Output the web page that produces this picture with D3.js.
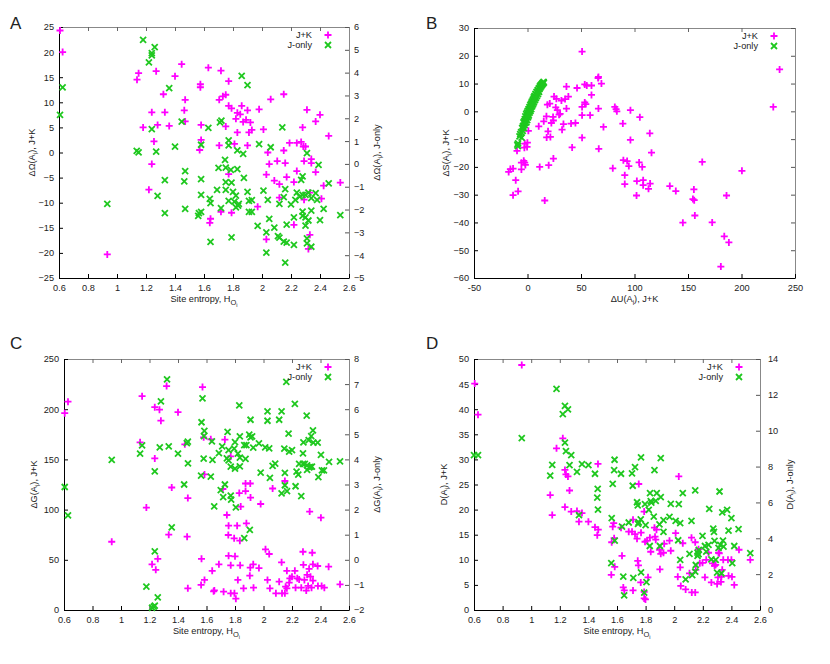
<!DOCTYPE html>
<html>
<head>
<meta charset="utf-8">
<script src="https://d3js.org/d3.v7.min.js"></script>
<style>
  body { margin: 0; background: #fff; }
  svg text { font-family: "Liberation Sans", Arial, Helvetica, sans-serif; fill: #222; }
</style>
</head>
<body>
<div id="chart"></div>
<script>
'use strict';

// tick values
var entropyTicks = [0.6, 0.8, 1, 1.2, 1.4, 1.6, 1.8, 2, 2.2, 2.4, 2.6];
var duTicks = [-50, 0, 50, 100, 150, 200, 250];

// panel A: delta Omega vs site entropy [H, value]
var omegaJK = [[0.607,24.3],[0.625,20.0],[0.933,-20.3],[1.138,14.5],[1.149,15.8],[1.18,5.0],[1.22,-7.4],[1.24,8.0],[1.24,-2.3],[1.255,2.2],[1.27,16.2],[1.28,5.5],[1.32,11.6],[1.33,8.0],[1.36,5.3],[1.40,15.2],[1.446,17.6],[1.464,8.4],[1.47,10.5],[1.47,6.2],[1.57,0.5],[1.575,13.6],[1.575,13.0],[1.58,2.5],[1.58,5.5],[1.63,16.9],[1.645,-13.2],[1.64,-14.0],[1.705,1.4],[1.717,16.3],[1.705,10.5],[1.717,-11.8],[1.73,11.2],[1.75,11.5],[1.75,5.2],[1.77,-4.3],[1.77,14.2],[1.77,9.3],[1.79,8.8],[1.79,-12.0],[1.81,1.7],[1.82,6.7],[1.83,7.9],[1.83,4.0],[1.85,7.6],[1.86,9.3],[1.87,6.1],[1.89,6.5],[1.90,8.4],[1.91,4.0],[1.90,1.4],[1.92,6.0],[1.93,4.5],[1.98,8.6],[1.97,-10.8],[2.01,4.6],[2.04,0.0],[2.05,-2.3],[2.03,-4.4],[2.03,-17.3],[2.06,10.6],[2.085,-5.6],[2.105,-1.7],[2.12,-6.3],[2.12,-9.0],[2.15,11.6],[2.15,0.4],[2.16,-2.1],[2.17,-4.9],[2.19,1.9],[2.22,-5.9],[2.22,-14.4],[2.24,-3.7],[2.24,1.9],[2.27,2.1],[2.28,5.0],[2.285,1.2],[2.30,1.2],[2.29,-1.7],[2.29,-9.4],[2.31,8.5],[2.32,-19.2],[2.33,-16.4],[2.33,-8.0],[2.34,-1.3],[2.34,-2.1],[2.37,6.2],[2.37,-3.9],[2.40,7.5],[2.41,-9.2],[2.425,-6.6],[2.46,3.3],[2.54,-6.0]];
var omegaJ = [[0.607,2.15],[0.625,3.35],[0.933,-1.75],[1.136,0.57],[1.149,0.51],[1.18,5.44],[1.22,4.45],[1.24,4.76],[1.24,4.86],[1.26,5.12],[1.24,1.52],[1.27,0.54],[1.28,-1.40],[1.33,-2.16],[1.33,-0.71],[1.36,3.32],[1.40,0.76],[1.446,1.85],[1.464,-0.77],[1.47,-0.32],[1.47,-1.97],[1.56,-2.28],[1.565,-2.16],[1.58,0.84],[1.58,-1.36],[1.58,-0.67],[1.58,-2.10],[1.63,1.58],[1.64,-1.53],[1.645,-1.72],[1.645,-3.42],[1.69,-1.14],[1.70,-0.17],[1.71,1.82],[1.72,1.90],[1.717,-1.94],[1.745,0.18],[1.75,-0.16],[1.75,-0.80],[1.75,-1.14],[1.77,1.03],[1.77,0.81],[1.77,-1.62],[1.785,-0.26],[1.79,-0.82],[1.79,-3.22],[1.80,-1.23],[1.81,-1.65],[1.82,-1.39],[1.82,-1.90],[1.83,-0.23],[1.83,0.59],[1.835,-1.83],[1.84,-1.75],[1.86,3.86],[1.87,0.44],[1.875,-0.61],[1.90,3.45],[1.90,-1.23],[1.91,-1.62],[1.91,-2.10],[1.93,-1.59],[1.93,-2.10],[1.97,-2.72],[1.98,0.87],[2.01,-1.17],[2.03,-3.0],[2.03,-3.89],[2.04,-1.58],[2.05,-2.41],[2.06,0.73],[2.085,-2.79],[2.11,-3.16],[2.12,-3.23],[2.12,-1.75],[2.14,1.60],[2.15,-1.46],[2.15,-3.41],[2.16,-1.11],[2.16,-4.33],[2.17,-2.66],[2.17,-3.45],[2.20,-1.77],[2.22,-3.55],[2.22,-2.34],[2.23,-1.58],[2.24,-1.26],[2.26,-1.43],[2.27,-0.70],[2.28,-2.09],[2.28,-1.36],[2.28,-0.55],[2.28,-2.28],[2.30,-2.34],[2.30,-1.36],[2.30,-2.70],[2.31,-3.26],[2.31,-3.48],[2.31,0.47],[2.32,-1.26],[2.32,-2.48],[2.34,-3.63],[2.34,-1.50],[2.34,-2.05],[2.37,-1.28],[2.38,-1.58],[2.39,-0.04],[2.40,-2.46],[2.425,-1.97],[2.46,-0.85],[2.54,-2.24]];

// panel B: delta S vs delta U [dU, dS]
var entJK = [[51.0,21.5],[235.6,15.1],[229.7,1.6],[66.3,12.4],[66.0,12.0],[53.5,9.7],[55.4,9.3],[46.3,8.4],[59.8,9.3],[69.1,10.0],[36.4,8.9],[59.8,5.9],[38.2,5.3],[35.1,4.4],[24.8,5.3],[27.0,4.5],[31.7,3.9],[53.5,3.2],[54.5,2.6],[26.4,1.4],[27.9,0.4],[36.4,1.0],[18.6,2.4],[20.8,2.8],[51.0,1.6],[66.3,1.0],[81.6,1.6],[82.8,0.8],[83.5,0.0],[96.2,0.4],[105.0,-2.1],[29.5,-1.2],[30.5,-0.9],[17.7,-1.8],[23.9,-2.0],[24.2,-3.3],[22.3,-4.2],[33.6,-4.6],[40.7,-4.4],[44.8,-4.2],[58.5,-1.4],[51.0,-1.4],[15.2,-3.6],[10.5,-5.4],[32.3,-6.6],[71.0,-5.6],[89.1,-4.4],[19.2,-7.2],[17.9,-9.4],[21.4,-9.2],[51.0,-9.5],[96.2,-10.3],[114.3,-7.9],[41.7,-13.0],[66.6,-13.5],[115.9,-14.9],[24.2,-17.0],[11.4,-20.0],[19.8,-19.4],[79.7,-20.5],[89.6,-17.6],[93.1,-17.9],[94.7,-19.7],[104.3,-18.4],[107.2,-20.0],[90.9,-23.0],[90.9,-26.2],[102.2,-25.1],[108.1,-24.8],[108.1,-26.6],[113.1,-27.9],[114.6,-26.0],[101.9,-30.3],[133.0,-26.9],[138.6,-28.7],[163.3,-18.2],[155.5,-28.1],[154.6,-31.6],[155.8,-32.0],[156.4,-37.5],[145.2,-40.1],[172.6,-40.0],[186.0,-30.3],[200.4,-21.4],[183.9,-45.0],[188.2,-47.2],[180.7,-55.9],[16.1,-32.1],[-13.5,-30.2],[-8.8,-28.8],[-11.0,-24.8],[-17.6,-21.8],[-16.0,-20.8],[-13.5,-20.6],[-2.6,-18.5],[-5.7,-18.5],[-3.5,-17.8],[-2.0,-19.3],[-5.7,-20.9],[-9.8,-14.2],[-2.9,-13.1],[-0.4,-12.8],[-2.6,-11.6],[-0.1,-11.3],[0.8,-7.0]];
var entJ = [[-9.5,-12.0],[-8.8,-11.5],[-9.0,-12.5],[-7.5,-9.0],[-6.8,-8.2],[-6.0,-7.5],[-5.5,-9.5],[-5.0,-6.0],[-4.5,-7.0],[-4.2,-5.2],[-3.8,-4.0],[-3.5,-6.0],[-3.0,-3.5],[-2.8,-5.0],[-2.5,-2.8],[-2.2,-4.2],[-2.0,-1.8],[-1.5,-3.0],[-1.2,-1.0],[-1.0,-4.0],[-0.8,-2.0],[-0.5,-0.5],[-0.3,-3.2],[0.0,-1.5],[0.2,0.2],[0.5,-2.2],[0.8,-0.8],[1.0,0.8],[1.2,-1.5],[1.5,0.2],[1.8,1.5],[2.0,-0.5],[2.3,0.8],[2.6,2.2],[2.8,0.2],[3.0,1.5],[3.3,2.8],[3.5,0.8],[3.8,2.2],[4.0,3.5],[4.3,1.8],[4.6,3.0],[5.0,4.2],[5.2,2.5],[5.5,3.8],[5.8,5.0],[6.0,3.2],[6.3,4.5],[6.6,5.6],[7.0,4.0],[7.2,5.2],[7.5,6.3],[7.8,4.8],[8.2,6.0],[8.5,7.0],[8.8,5.5],[9.2,6.8],[9.5,7.6],[9.8,6.2],[10.2,7.4],[10.5,8.3],[10.8,7.0],[11.2,8.0],[11.5,9.0],[12.0,8.5],[12.3,9.4],[12.8,9.0],[13.2,9.8],[13.6,9.5],[14.0,10.2],[14.5,10.0],[15.0,10.6],[15.3,10.3]];

// panel C: delta G vs site entropy
var gibbsJK = [[0.605,196],[0.628,207.5],[0.935,68],[1.134,167],[1.148,213],[1.178,102],[1.218,45.5],[1.237,202],[1.237,151],[1.244,40],[1.258,51],[1.27,199.5],[1.28,188.6],[1.32,223],[1.335,75],[1.356,122],[1.40,197],[1.448,165],[1.464,73],[1.469,111.5],[1.469,21.6],[1.562,25],[1.565,51],[1.572,222],[1.58,172],[1.586,135],[1.586,30],[1.63,170],[1.64,39],[1.65,18.6],[1.655,19.5],[1.687,45.5],[1.715,120.5],[1.72,18.3],[1.729,169.7],[1.743,94.6],[1.755,84],[1.753,74.7],[1.755,54],[1.77,153],[1.77,44.5],[1.77,16.6],[1.794,71.4],[1.796,16.6],[1.80,53.5],[1.806,11.3],[1.815,84],[1.82,30],[1.83,116.5],[1.834,69],[1.836,44.5],[1.84,103],[1.86,21.6],[1.874,126],[1.874,118.5],[1.88,86.3],[1.907,126],[1.904,34.2],[1.907,42.2],[1.909,112],[1.928,45.5],[1.93,22.2],[1.968,41.8],[1.98,105.6],[2.014,60.4],[2.028,30],[2.04,55.8],[2.045,21.6],[2.064,121],[2.087,16.6],[2.11,28.2],[2.127,47.5],[2.13,16.6],[2.15,128.5],[2.15,16.6],[2.155,23.2],[2.164,39],[2.164,21.6],[2.18,27.2],[2.185,31.5],[2.2,33.2],[2.22,39],[2.225,22.2],[2.237,31.5],[2.25,30.5],[2.265,22.2],[2.277,58],[2.28,45],[2.287,30],[2.30,19.3],[2.306,35],[2.313,24],[2.32,41],[2.324,98],[2.33,33.2],[2.337,22.2],[2.342,57],[2.347,29.2],[2.347,45.5],[2.38,43.8],[2.382,24],[2.403,92],[2.408,24],[2.427,22.2],[2.457,43.2],[2.537,25.6]];
var gibbsJ = [[0.605,2.90],[0.628,1.77],[0.935,3.98],[1.134,4.23],[1.148,4.56],[1.178,-1.07],[1.218,-1.91],[1.23,-1.87],[1.237,-1.83],[1.237,3.52],[1.237,0.34],[1.258,-1.50],[1.272,4.48],[1.28,6.31],[1.323,7.19],[1.335,4.52],[1.356,1.29],[1.40,4.23],[1.443,3.0],[1.462,4.65],[1.469,4.71],[1.47,3.84],[1.562,3.35],[1.565,5.48],[1.572,6.43],[1.58,4.03],[1.585,5.14],[1.582,4.93],[1.63,3.31],[1.638,4.72],[1.642,3.98],[1.654,2.13],[1.687,4.25],[1.70,2.78],[1.71,4.52],[1.717,2.50],[1.729,3.0],[1.743,4.04],[1.748,5.10],[1.755,3.96],[1.755,4.37],[1.77,3.71],[1.77,2.56],[1.773,2.40],[1.794,4.43],[1.80,3.63],[1.80,4.69],[1.806,2.09],[1.82,4.23],[1.83,6.15],[1.834,4.92],[1.834,3.72],[1.834,4.07],[1.865,0.86],[1.865,4.57],[1.88,4.57],[1.874,4.02],[1.90,4.99],[1.904,1.19],[1.909,5.58],[1.909,4.88],[1.92,4.92],[1.928,4.47],[1.968,4.64],[1.98,3.47],[2.012,4.48],[2.028,5.54],[2.028,5.91],[2.04,4.44],[2.045,3.26],[2.064,3.74],[2.082,3.83],[2.11,5.58],[2.127,5.91],[2.127,2.65],[2.146,4.43],[2.15,3.46],[2.15,2.97],[2.16,7.09],[2.165,2.74],[2.176,5.03],[2.18,4.31],[2.2,4.37],[2.22,6.21],[2.225,2.93],[2.232,3.51],[2.244,3.39],[2.25,3.82],[2.265,2.54],[2.277,4.24],[2.277,3.82],[2.28,4.68],[2.29,3.82],[2.303,5.74],[2.306,3.58],[2.306,3.76],[2.317,4.77],[2.32,3.68],[2.33,3.70],[2.335,4.93],[2.34,3.71],[2.347,5.16],[2.35,4.67],[2.38,4.67],[2.385,3.29],[2.403,4.18],[2.41,3.56],[2.424,3.56],[2.46,3.90],[2.537,3.92]];

// panel D: D(A_i) vs site entropy
var distJK = [[0.605,45.1],[0.628,38.9],[0.934,48.8],[1.133,22.9],[1.147,18.9],[1.177,32.2],[1.221,34.2],[1.236,27.9],[1.236,20.5],[1.243,27.0],[1.257,26.6],[1.268,23.8],[1.28,19.6],[1.32,19.7],[1.334,17.6],[1.355,19.3],[1.40,17.6],[1.446,16.5],[1.462,14.9],[1.467,29.1],[1.469,16.0],[1.56,7.0],[1.563,13.5],[1.57,16.6],[1.577,17.3],[1.584,8.6],[1.58,14.3],[1.628,16.4],[1.635,10.8],[1.644,4.5],[1.651,3.9],[1.682,15.6],[1.705,15.6],[1.712,3.9],[1.712,18.0],[1.726,15.1],[1.74,14.2],[1.745,9.8],[1.75,8.9],[1.752,25.1],[1.766,5.5],[1.768,15.4],[1.79,3.6],[1.79,2.3],[1.799,2.1],[1.796,13.6],[1.79,19.6],[1.81,13.8],[1.817,6.5],[1.83,14.4],[1.836,11.6],[1.862,16.4],[1.866,14.6],[1.871,14.0],[1.876,16.0],[1.897,12.0],[1.90,8.1],[1.906,11.2],[1.925,11.4],[1.93,13.2],[1.967,13.8],[1.976,11.8],[2.01,15.3],[2.025,6.6],[2.032,26.6],[2.042,8.5],[2.046,4.8],[2.06,13.3],[2.08,4.1],[2.107,7.3],[2.121,14.4],[2.123,3.5],[2.147,13.5],[2.147,3.5],[2.151,8.0],[2.17,12.1],[2.179,9.3],[2.198,9.4],[2.215,6.5],[2.224,10.0],[2.24,11.4],[2.26,5.5],[2.268,9.3],[2.282,8.8],[2.29,9.0],[2.30,5.2],[2.306,6.5],[2.31,11.4],[2.315,11.3],[2.327,5.6],[2.33,6.6],[2.336,8.0],[2.343,10.0],[2.376,10.0],[2.38,6.8],[2.40,10.0],[2.404,6.6],[2.42,5.0],[2.453,12.0],[2.532,10.0]];
var distJ = [[0.60,8.64],[0.628,8.64],[0.934,9.59],[1.133,7.50],[1.147,8.10],[1.177,12.33],[1.221,10.93],[1.236,11.38],[1.236,9.33],[1.243,8.86],[1.257,11.19],[1.268,8.08],[1.28,8.64],[1.32,7.71],[1.334,5.29],[1.355,8.14],[1.40,8.08],[1.446,7.60],[1.462,6.27],[1.465,6.76],[1.467,5.60],[1.56,2.61],[1.563,5.12],[1.57,7.04],[1.58,7.80],[1.583,8.38],[1.584,3.87],[1.628,7.60],[1.635,4.65],[1.644,1.86],[1.65,0.82],[1.682,4.88],[1.705,7.62],[1.71,6.93],[1.714,1.79],[1.726,7.97],[1.74,6.01],[1.745,5.83],[1.747,4.80],[1.752,4.88],[1.768,8.51],[1.766,5.05],[1.768,2.10],[1.79,0.97],[1.796,5.90],[1.80,4.73],[1.806,1.55],[1.822,5.59],[1.829,3.57],[1.831,6.52],[1.836,6.07],[1.84,5.99],[1.862,7.80],[1.857,5.21],[1.871,6.09],[1.878,6.52],[1.897,4.78],[1.90,3.57],[1.906,8.47],[1.906,6.29],[1.925,5.01],[1.925,4.36],[1.967,5.19],[1.976,5.92],[2.01,4.97],[2.028,3.89],[2.032,5.90],[2.042,4.84],[2.042,2.79],[2.06,6.52],[2.08,1.71],[2.107,3.13],[2.121,4.97],[2.126,1.95],[2.147,6.67],[2.147,2.14],[2.151,2.51],[2.163,3.02],[2.163,3.20],[2.172,3.35],[2.17,3.11],[2.198,4.13],[2.215,3.57],[2.224,3.26],[2.24,3.63],[2.245,5.64],[2.26,2.83],[2.273,4.54],[2.278,4.36],[2.282,3.85],[2.29,2.79],[2.30,2.09],[2.31,3.46],[2.317,6.61],[2.322,3.63],[2.33,2.05],[2.336,5.44],[2.341,3.87],[2.345,3.54],[2.37,5.59],[2.38,4.43],[2.40,5.12],[2.406,2.61],[2.42,3.57],[2.45,4.51],[2.532,3.17]];

var magenta = "#ff00ff", green = "#1fc81f";
var fontSize = "9.2px";

var svg = d3.select("#chart").append("svg")
  .attr("width", 830)
  .attr("height", 664);

// label with a subscript "i" after "(A"
function subLabel(sel, pre, post) {
  sel.append("tspan").text(pre + "(A");
  sel.append("tspan").attr("dy", 2.5).attr("font-size", "6.5px").text("i");
  sel.append("tspan").attr("dy", -2.5).text(")" + post);
}

function styleText(a) {
  a.selectAll("text").attr("font-size", fontSize).attr("fill", "#222")
    .attr("font-family", "'Liberation Sans', Arial, sans-serif");
}

function drawPanel(p) {
  var g = svg.append("g").attr("transform", "translate(" + p.l + "," + p.t + ")");
  var w = p.r - p.l, h = p.b - p.t;

  var x = d3.scaleLinear().domain(p.xDomain).range([0, w]);
  var y = d3.scaleLinear().domain(p.yDomain).range([h, 0]);
  var y2 = p.y2Domain ? d3.scaleLinear().domain(p.y2Domain).range([h, 0]) : y;

  // mirrored top ticks and right axis in gray
  g.append("g")
    .call(d3.axisTop(x).tickValues(p.xTicks).tickSizeInner(-4).tickSizeOuter(0).tickFormat(""))
    .call(function(a) { a.select(".domain").attr("stroke", "#888"); a.selectAll(".tick line").attr("stroke", "#666"); });

  var right = g.append("g")
    .attr("transform", "translate(" + w + ",0)")
    .call(d3.axisRight(y2).tickValues(p.y2Ticks || p.yTicks).tickSizeInner(-4).tickSizeOuter(0)
      .tickPadding(p.y2Pad || 5).tickFormat(p.y2Domain ? d3.format("") : ""));
  right.select(".domain").attr("stroke", "#888");
  right.selectAll(".tick line").attr("stroke", "#555");
  styleText(right);

  // bottom axis
  var bottom = g.append("g")
    .attr("transform", "translate(0," + h + ")")
    .call(d3.axisBottom(x).tickValues(p.xTicks).tickSizeInner(-4).tickSizeOuter(0).tickPadding(6).tickFormat(function(d) { return String(d); }));
  bottom.select(".domain").attr("stroke", "#000");
  styleText(bottom);

  // left axis
  var left = g.append("g")
    .call(d3.axisLeft(y).tickValues(p.yTicks).tickSizeInner(-4).tickSizeOuter(0).tickPadding(5).tickFormat(d3.format("")));
  left.select(".domain").attr("stroke", "#000");
  styleText(left);

  // J+K points
  g.append("g").selectAll("path")
    .data(p.jk)
    .enter().append("path")
    .attr("transform", function(d) { return "translate(" + x(d[0]) + "," + y(d[1]) + ")"; })
    .attr("d", "M-3.5,0H3.5M0,-3.5V3.5")
    .attr("stroke", magenta)
    .attr("stroke-width", 1.8);

  // J-only points
  g.append("g").selectAll("path")
    .data(p.j)
    .enter().append("path")
    .attr("transform", function(d) { return "translate(" + x(d[0]) + "," + y2(d[1]) + ")"; })
    .attr("d", "M-3,-3L3,3M-3,3L3,-3")
    .attr("stroke", green)
    .attr("stroke-width", 1.8);

  // legend
  var leg = g.append("g").attr("font-size", fontSize);
  leg.append("text").attr("x", w - 37).attr("y", 11).attr("text-anchor", "end").text("J+K");
  leg.append("text").attr("x", w - 37).attr("y", 21).attr("text-anchor", "end").text("J-only");
  leg.append("path").attr("transform", "translate(" + (w - 21) + ",8)")
    .attr("d", "M-3.5,0H3.5M0,-3.5V3.5").attr("stroke", magenta).attr("stroke-width", 1.8);
  leg.append("path").attr("transform", "translate(" + (w - 21) + ",18)")
    .attr("d", "M-3,-3L3,3M-3,3L3,-3").attr("stroke", green).attr("stroke-width", 1.8);

  // panel letter
  svg.append("text").attr("x", p.letterX).attr("y", p.letterY)
    .attr("font-size", "17px").text(p.letter);

  // x label
  var xl = svg.append("text")
    .attr("x", (p.l + p.r) / 2).attr("y", p.b + 24)
    .attr("text-anchor", "middle").attr("font-size", fontSize);
  if (p.xLabel) {
    subLabel(xl, "\u0394U", ", J+K");
  } else {
    xl.append("tspan").text("Site entropy, H");
    xl.append("tspan").attr("dy", 3).attr("font-size", "7.5px").text("O");
    xl.append("tspan").attr("dy", 2).attr("font-size", "5.5px").text("i");
  }

  // y labels
  var yl = svg.append("text")
    .attr("transform", "translate(" + p.yLabelX + "," + (p.t + p.b) / 2 + ") rotate(-90)")
    .attr("text-anchor", "middle").attr("font-size", fontSize);
  subLabel(yl, p.yName, ", J+K");
  if (p.y2Domain) {
    var yl2 = svg.append("text")
      .attr("transform", "translate(" + p.y2LabelX + "," + (p.t + p.b) / 2 + ") rotate(-90)")
      .attr("text-anchor", "middle").attr("font-size", fontSize);
    subLabel(yl2, p.yName, ", J-only");
  }
}

drawPanel({
  letter: "A", letterX: 10, letterY: 29,
  l: 59, r: 349, t: 27, b: 278,
  xDomain: [0.6, 2.6], xTicks: entropyTicks,
  yDomain: [-25, 25], yTicks: [-25, -20, -15, -10, -5, 0, 5, 10, 15, 20, 25],
  y2Domain: [-5, 6], y2Ticks: [-5, -4, -3, -2, -1, 0, 1, 2, 3, 4, 5, 6], y2Pad: 5,
  yName: "\u0394\u03A9", yLabelX: 35, y2LabelX: 380,
  jk: omegaJK, j: omegaJ
});

drawPanel({
  letter: "B", letterX: 426, letterY: 29,
  l: 474, r: 795, t: 28, b: 278,
  xDomain: [-50, 250], xTicks: duTicks, xLabel: "du",
  yDomain: [-60, 30], yTicks: [-60, -50, -40, -30, -20, -10, 0, 10, 20, 30],
  yName: "\u0394S", yLabelX: 449,
  jk: entJK, j: entJ
});

drawPanel({
  letter: "C", letterX: 10, letterY: 349,
  l: 64, r: 349, t: 359, b: 610,
  xDomain: [0.6, 2.6], xTicks: entropyTicks,
  yDomain: [0, 250], yTicks: [0, 50, 100, 150, 200, 250],
  y2Domain: [-2, 8], y2Ticks: [-2, -1, 0, 1, 2, 3, 4, 5, 6, 7, 8], y2Pad: 5,
  yName: "\u0394G", yLabelX: 37, y2LabelX: 380,
  jk: gibbsJK, j: gibbsJ
});

drawPanel({
  letter: "D", letterX: 426, letterY: 349,
  l: 474, r: 760, t: 359, b: 610,
  xDomain: [0.6, 2.6], xTicks: entropyTicks,
  yDomain: [0, 50], yTicks: [0, 5, 10, 15, 20, 25, 30, 35, 40, 45, 50],
  y2Domain: [0, 14], y2Ticks: [0, 2, 4, 6, 8, 10, 12, 14], y2Pad: 8,
  yName: "D", yLabelX: 447, y2LabelX: 793,
  jk: distJK, j: distJ
});
</script>
</body>
</html>
